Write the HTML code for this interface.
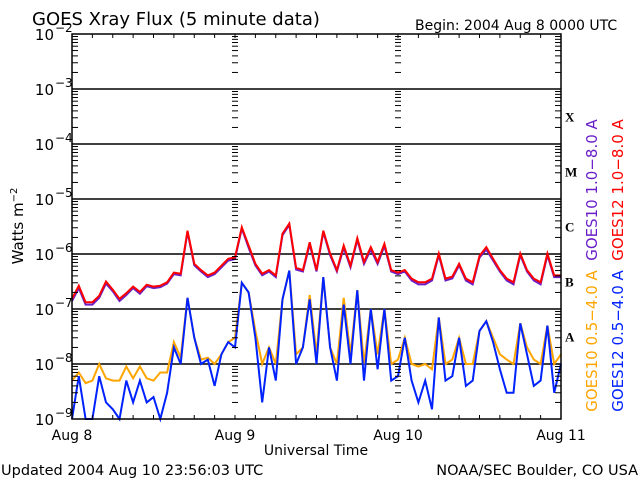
<!DOCTYPE html>
<html><head><meta charset="utf-8"><style>
html,body{margin:0;padding:0;background:#fff;}
svg{display:block;font-family:"DejaVu Sans","Liberation Sans",sans-serif;}
</style></head><body>
<svg id="chart" width="640" height="480" viewBox="0 0 640 480" xmlns="http://www.w3.org/2000/svg">
<rect width="640" height="480" fill="#fff"/>
<text x="32" y="25" font-size="18">GOES Xray Flux (5 minute data)</text>
<text x="415" y="30" font-size="14">Begin:  2004 Aug 8 0000 UTC</text>
<text x="1" y="475" font-size="14.5">Updated 2004 Aug 10 23:56:03 UTC</text>
<text x="638" y="475" font-size="14.5" text-anchor="end">NOAA/SEC Boulder, CO USA</text>
<text x="316" y="455" font-size="14" text-anchor="middle">Universal Time</text>
<text transform="translate(23,226) rotate(-90)" font-size="15" text-anchor="middle">Watts m<tspan dy="-6" font-size="10">−2</tspan></text>
<g id="grid"></g>
<g id="series"></g>
<g id="axes"></g>
<text transform="translate(597,190) rotate(-90)" font-size="15" fill="#6a1ec8" text-anchor="middle">GOES10 1.0−8.0 A</text>
<text transform="translate(623,190) rotate(-90)" font-size="15" fill="#ff0000" text-anchor="middle">GOES12 1.0−8.0 A</text>
<text transform="translate(597,341) rotate(-90)" font-size="15" fill="#ffa500" text-anchor="middle">GOES10 0.5−4.0 A</text>
<text transform="translate(623,341) rotate(-90)" font-size="15" fill="#0022ff" text-anchor="middle">GOES12 0.5−4.0 A</text>
</svg>
<script>
// hourly samples, 73 points (Aug 8 00 UT .. Aug 11 00 UT)
const dayLabels = ["Aug 8","Aug 9","Aug 10","Aug 11"];
const decadeExps = [-2,-3,-4,-5,-6,-7,-8,-9];
const classLetters = ["X","M","C","B","A"];
const goes12Long = [1.5e-7,2.6e-7,1.3e-7,1.3e-7,1.7e-7,3.1e-7,2.2e-7,1.5e-7,1.9e-7,2.5e-7,2e-7,2.7e-7,2.5e-7,2.6e-7,3e-7,4.5e-7,4.3e-7,2.6e-6,6.5e-7,5e-7,4e-7,4.5e-7,6e-7,8e-7,
 8.5e-7,3e-6,1.4e-6,6.5e-7,4.3e-7,5e-7,4e-7,2.3e-6,3.5e-6,5.5e-7,5e-7,1.6e-6,5e-7,2.6e-6,1e-6,5e-7,1.4e-6,6e-7,1.9e-6,7e-7,1.3e-6,7e-7,1.5e-6,5e-7,
 4.5e-7,5e-7,3.5e-7,3e-7,3e-7,3.5e-7,1e-6,3.5e-7,3.8e-7,6.5e-7,3.5e-7,3e-7,9e-7,1.3e-6,8e-7,5e-7,3.5e-7,3e-7,1e-6,5e-7,3.5e-7,3e-7,1e-6,4e-7,4e-7];
const goes10Long = [1.4e-7,2.4e-7,1.2e-7,1.2e-7,1.6e-7,2.9e-7,2.1e-7,1.4e-7,1.8e-7,2.4e-7,1.9e-7,2.6e-7,2.4e-7,2.5e-7,2.9e-7,4.3e-7,4.1e-7,2.5e-6,6.2e-7,4.8e-7,3.8e-7,4.3e-7,5.7e-7,7.6e-7,
 8.1e-7,2.9e-6,1.3e-6,6.2e-7,4.1e-7,4.8e-7,3.8e-7,2.2e-6,3.4e-6,5.2e-7,4.8e-7,1.5e-6,4.8e-7,2.5e-6,9.5e-7,4.8e-7,1.3e-6,5.7e-7,1.8e-6,6.6e-7,1.2e-6,6.6e-7,1.4e-6,4.8e-7,
 4.3e-7,4.8e-7,3.3e-7,2.8e-7,2.8e-7,3.3e-7,9.5e-7,3.3e-7,3.6e-7,6.2e-7,3.3e-7,2.8e-7,8.6e-7,1.2e-6,7.6e-7,4.8e-7,3.3e-7,2.8e-7,9.5e-7,4.8e-7,3.3e-7,2.8e-7,9.5e-7,3.8e-7,3.8e-7];
const goes10Short = [5e-9,7e-9,4.5e-9,5e-9,1e-8,5.5e-9,5e-9,5e-9,9e-9,5.5e-9,9e-9,5.5e-9,5e-9,7e-9,7e-9,2.5e-8,1.3e-8,1.6e-7,3e-8,1.2e-8,1.3e-8,1e-8,1.5e-8,2.5e-8,
 3e-8,3e-7,2e-7,4e-8,1e-8,2e-8,1e-8,1.5e-7,5e-7,1.5e-8,2e-8,1.8e-7,1.5e-8,3.8e-7,2e-8,1e-8,1.6e-7,1.5e-8,2.2e-7,1e-8,1e-7,1.5e-8,1e-7,1e-8,
 1.2e-8,3e-8,1e-8,9e-9,1e-8,8e-9,7e-8,1e-8,1.2e-8,3e-8,1e-8,1e-8,4e-8,6e-8,3e-8,1.5e-8,1.2e-8,1e-8,5.5e-8,2e-8,1.2e-8,1e-8,5e-8,1e-8,1.5e-8];
const goes12Short = [1e-9,6e-9,5e-10,5e-10,6e-9,2e-9,1.5e-9,5e-10,5e-9,2e-9,5e-9,2e-9,2.5e-9,1e-9,3e-9,2e-8,1e-8,1.6e-7,3e-8,1e-8,1.2e-8,4e-9,1.5e-8,2.5e-8,
 2e-8,3e-7,2e-7,3e-8,2e-9,2e-8,5e-9,1.5e-7,5e-7,1e-8,2e-8,1.5e-7,1e-8,3.8e-7,2e-8,5e-9,1.2e-7,1e-8,2.2e-7,5e-9,1e-7,8e-9,1e-7,5e-9,
 6e-9,3e-8,5e-9,2e-9,5e-9,1.5e-9,7e-8,5e-9,6e-9,3e-8,4e-9,5e-9,4e-8,6e-8,2.5e-8,8e-9,3e-9,3e-9,5.5e-8,1.5e-8,4e-9,5e-9,5e-8,3e-9,1e-8];

const NS='http://www.w3.org/2000/svg';
const L=72,R=561,T=34,B=419;
const xScale=h=>L+(R-L)*h/72;
const yScale=v=>{const lv=Math.max(-9,Math.min(-2,Math.log10(v)));return T+(-2-lv)*(B-T)/7;};
function mk(tag,attrs,parent){const e=document.createElementNS(NS,tag);for(const k in attrs)e.setAttribute(k,attrs[k]);parent.appendChild(e);return e;}
const grid=document.getElementById('grid'),axes=document.getElementById('axes'),series=document.getElementById('series');

decadeExps.forEach((ex,i)=>{
  const y=yScale(Math.pow(10,ex));
  if(ex>-9&&ex<-2){const g=mk('line',{x1:L,x2:R,y1:y,y2:y,stroke:'#000','stroke-width':1.5},grid);
  
  }
  const t=mk('text',{x:54,y:y+6,'font-size':15,'text-anchor':'end'},axes);
  
  
  t.textContent='10';
  const s=mk('text',{x:55,y:y-2,'font-size':12},axes);
  
  
  s.textContent='−'+(-ex);
  if(ex>-9){for(let m=2;m<=9;m++){const yy=yScale(m*Math.pow(10,ex-1));
    [[L,L+6],[R-6,R],[xScale(24)-3,xScale(24)+3],[xScale(48)-3,xScale(48)+3]].forEach(p=>mk('line',{x1:p[0],x2:p[1],y1:yy,y2:yy,stroke:'#000','stroke-width':1},axes));}}
});
classLetters.forEach((c,i)=>{const y=yScale(Math.pow(10,-3.5-i));const t=mk('text',{x:565,y:y+5,'font-size':13,'font-weight':'bold','font-family':'Liberation Serif, serif'},axes);
  
  
  t.textContent=c;});
for(let h=0;h<=72;h+=3){const x=xScale(h);mk('line',{x1:x,x2:x,y1:T,y2:T+4,stroke:'#000'},axes);mk('line',{x1:x,x2:x,y1:B,y2:B-4,stroke:'#000'},axes);}
dayLabels.forEach((d,i)=>{const x=xScale(i*24);const t=mk('text',{x:x,y:440,'font-size':14,'text-anchor':'middle'},axes);
  
  
  t.textContent=d;});
const frame=mk('rect',{x:L,y:T,width:R-L,height:B-T,fill:'none',stroke:'#000','stroke-width':1.5},axes);



function drawSeries(arr,color,name,off){
  const pts=arr.map((v,i)=>xScale(i).toFixed(1)+','+(yScale(v)+off).toFixed(1)).join(' ');
  const p=mk('polyline',{points:pts,fill:'none',stroke:color,'stroke-width':2,'stroke-linejoin':'miter'},series);
  
  
}
drawSeries(goes10Short,'#ffa500','goes10-short-line',0);
drawSeries(goes12Short,'#0022ff','goes12-short-line',0);
drawSeries(goes10Long,'#6a1ec8','goes10-long-line',0);
drawSeries(goes12Long,'#ff0000','goes12-long-line',-0.5);
</script>
</body></html>
